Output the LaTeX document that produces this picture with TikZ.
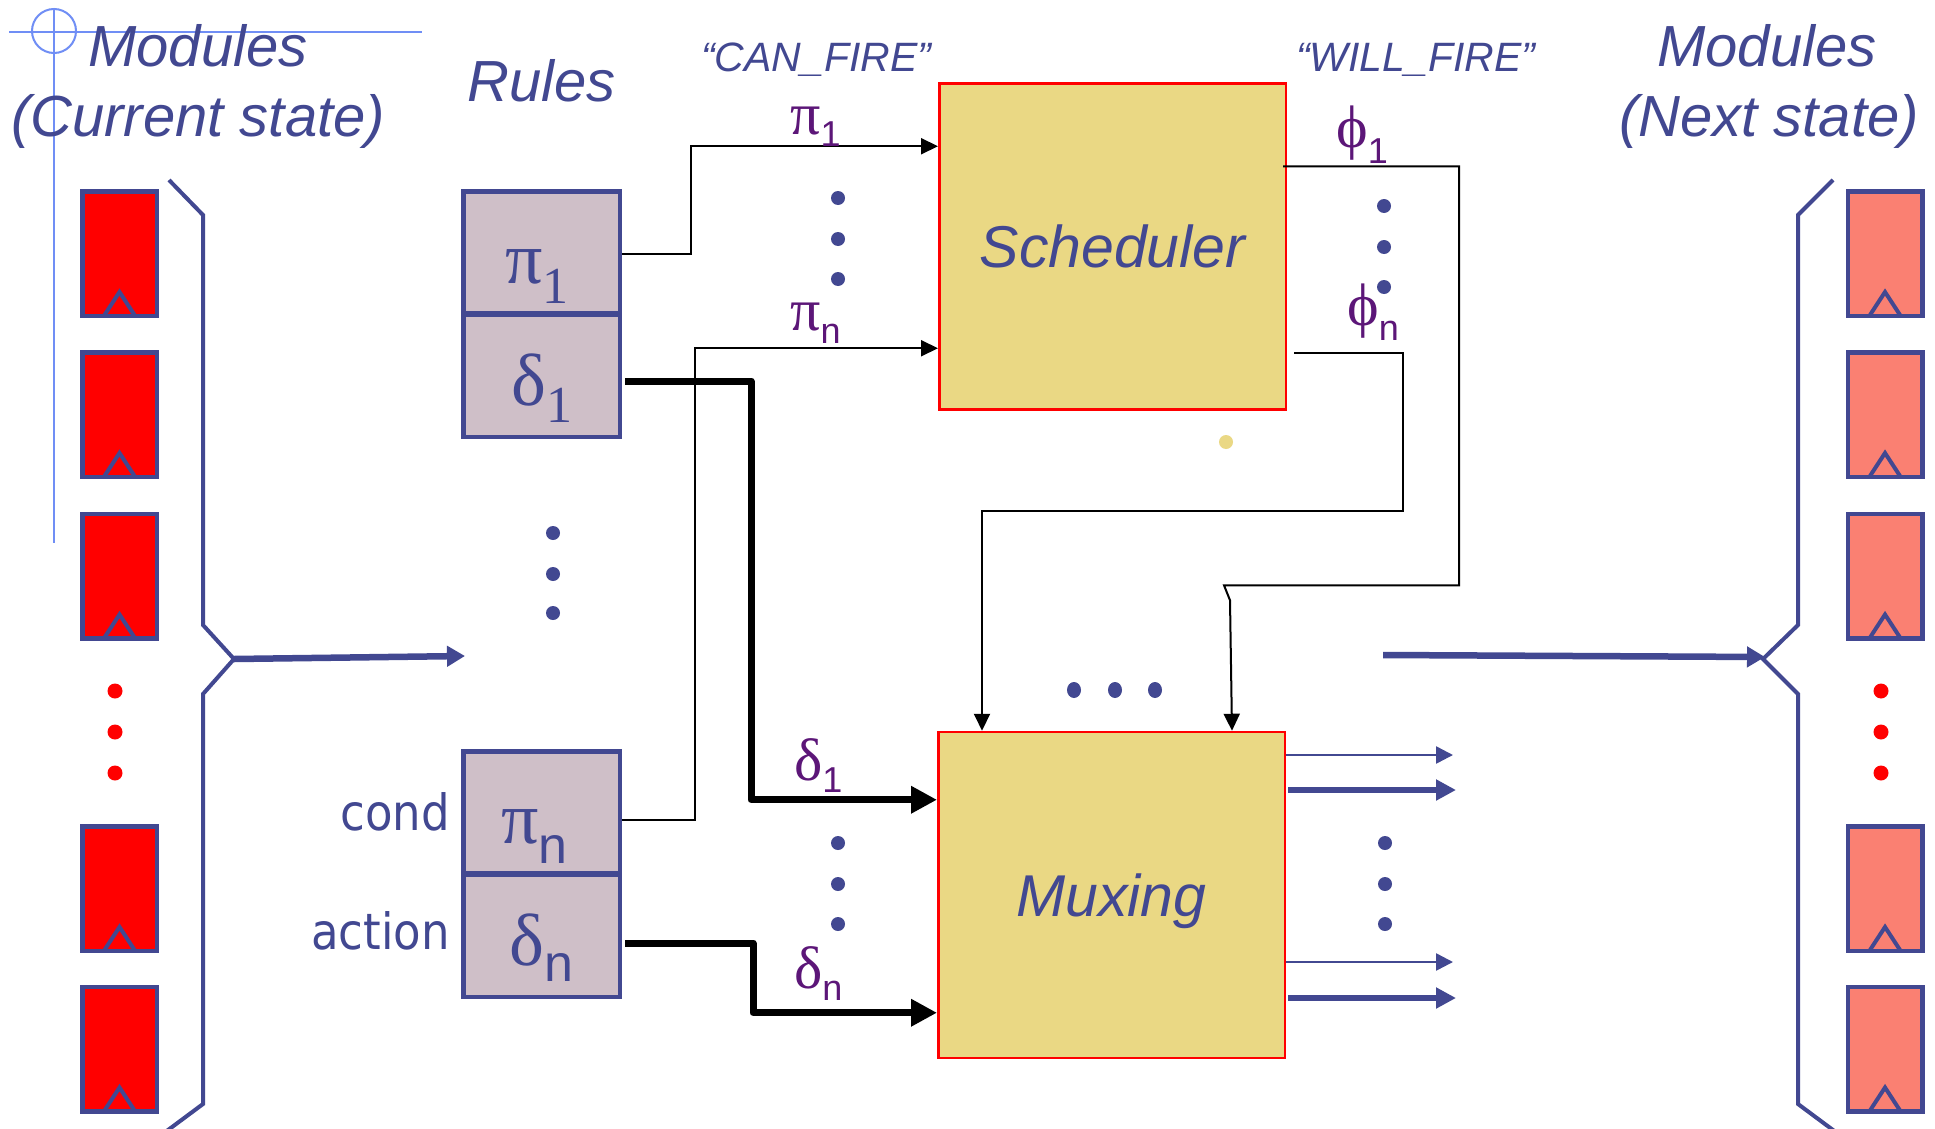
\documentclass[tikz,border=0pt]{standalone}
\usepackage{graphicx}
\usepackage{fontspec}
\setmainfont{Liberation Sans}
\newfontfamily\grkfont{Liberation Serif}
\newfontfamily\tahfont{DejaVu Sans}
\usetikzlibrary{arrows.meta,calc}
\definecolor{navy}{RGB}{66,72,145}
\definecolor{guideblue}{RGB}{112,142,245}
\definecolor{lblpurple}{RGB}{92,22,120}
\definecolor{khaki}{RGB}{234,216,132}
\definecolor{mauve}{RGB}{207,191,200}
\definecolor{salmon}{RGB}{250,128,114}
\newcommand\plab[3]{{\fontsize{60}{60}\selectfont\grkfont #1}\raisebox{-#3pt}{\fontsize{36}{36}\selectfont #2}}
\newcommand\blab[3]{{\fontsize{74}{74}\selectfont\grkfont #1}\raisebox{-#3pt}{\fontsize{52}{52}\selectfont #2}}
\begin{document}
\begin{tikzpicture}[x=1pt,y=-1pt,
  navytxt/.style={text=navy, inner sep=0pt, anchor=base west},
  title/.style={navytxt, font=\fontsize{58}{60}\selectfont\itshape},
  smalltitle/.style={navytxt, font=\fontsize{41}{44}\selectfont\itshape},
  purp/.style={text=lblpurple, inner sep=0pt, anchor=base west},
  reg/.style={draw=navy, line width=4.5pt, minimum width=74.5pt, minimum height=124.5pt, inner sep=0pt},
  regL/.style={reg, fill=red},
  regR/.style={reg, fill=salmon},
  rulebox/.style={draw=navy, line width=4.5pt, fill=mauve, minimum width=156.5pt, minimum height=122pt, inner sep=0pt},
  block/.style={draw=red, line width=2.5pt, fill=khaki, minimum width=346.5pt, minimum height=326pt, inner sep=0pt, text=navy, font=\fontsize{59}{60}\selectfont\itshape, text height=42pt, text depth=0pt},
  conn/.style={line width=2pt, -{Triangle[length=17pt,width=16pt]}},
  thickconn/.style={line width=7pt, line join=round, -{Triangle[length=26pt,width=26pt]}},
  bigarrow/.style={draw=navy, line width=6.5pt, -{Triangle[length=18pt,width=20pt]}},
  outthin/.style={draw=navy, line width=2.5pt, -{Triangle[length=17pt,width=17pt]}},
  outthick/.style={draw=navy, line width=5.5pt, -{Triangle[length=20pt,width=20pt]}},
  brace/.style={draw=navy, line width=4pt},
  guide/.style={draw=guideblue, line width=2pt},
  clk/.style={draw=navy, line width=4pt}
]
\useasboundingbox (0,0) rectangle (1935,1129);
\fill[white] (0,0) rectangle (1935,1129);

% guide lines
\draw[guide] (9,32) -- (422,32);
\draw[guide] (54,8) -- (54,543);
\draw[guide] (54,31) circle[radius=22pt];

% titles
\node[title] (modL) at (88,67) {Modules};
\node[title] (curL) at (11,137) {(Current state)};
\node[title] (rules) at (467,102) {Rules};
\node[smalltitle] (canfire) at (701,72) {“CAN\_FIRE”};
\node[smalltitle] (willfire) at (1296,72) {“WILL\_FIRE”};
\node[title] (modR) at (1657,67) {Modules};
\node[title] (nextR) at (1619,137) {(Next state)};

% registers
\foreach \n/\yy in {1/253.5, 2/414.5, 3/576, 4/888.5, 5/1049} {
  \node[regL] (rl\n) at (119.5,\yy) {};
  \draw[clk] ([xshift=-15pt,yshift=3pt]rl\n.south) -- ([yshift=26pt]rl\n.south) -- ([xshift=15pt,yshift=3pt]rl\n.south);
  \node[regR] (rr\n) at (1885,\yy) {};
  \draw[clk] ([xshift=-15pt,yshift=3pt]rr\n.south) -- ([yshift=26pt]rr\n.south) -- ([xshift=15pt,yshift=3pt]rr\n.south);
}
\foreach \yy in {691,732,773} {
  \fill[red] (115,\yy) circle[radius=7.5pt];
  \fill[red] (1881,\yy) circle[radius=7.5pt];
}

% brackets
\draw[brace] (169,180) -- (203,215) -- (203,625) -- (234,659) -- (203,694) -- (203,1104) -- (164,1133);
\draw[brace] (1833,180) -- (1798,215) -- (1798,625) -- (1763,659) -- (1798,694) -- (1798,1104) -- (1837,1133);

% big arrows
\coordinate (ltip) at (234,659);
\coordinate (lend) at (465,656);
\draw[bigarrow] (ltip) -- (lend);
\coordinate (rstart) at (1383,655);
\coordinate (rtip) at (1765,657);
\draw[bigarrow] (rstart) -- (rtip);

% rule boxes
\node[rulebox] (p1) at (541.5,252.25) {};
\node[rulebox] (d1) at (541.5,375.75) {};
\node[rulebox] (pn) at (541.5,812.25) {};
\node[rulebox] (dn) at (541.5,935.75) {};
\node[navytxt] (p1t) at (505,283) {\blab{π}{\grkfont 1}{20}};
\node[navytxt] (d1t) at (511,405) {\blab{δ}{\grkfont 1}{17}};
\node[navytxt] (pnt) at (501,843) {\blab{π}{n}{20}};
\node[navytxt] (dnt) at (509,965) {\blab{δ}{n}{16}};
\node[navytxt, anchor=base east, font=\fontsize{50}{50}\selectfont\tahfont] (cond) at (450,830) {\scalebox{0.9}[1]{cond}};
\node[navytxt, anchor=base east, font=\fontsize{50}{50}\selectfont\tahfont] (action) at (450,949) {\scalebox{0.9}[1]{action}};
\foreach \yy in {533,574,613} { \fill[navy] (553,\yy) circle[radius=7pt]; }

% blocks
\node[block] (sched) at (1112.5,246.5) {Scheduler};
\node[block] (mux) at (1111.5,895) {Muxing};
\fill[khaki] (1226,442) circle[radius=7pt];

% CAN_FIRE connectors
\draw[conn] ([yshift=-1.75pt]p1.east) -- ++(69,0) |- ([yshift=-64pt]sched.north west);
\draw[conn] ([yshift=-7.75pt]pn.east) -- ++(73,0) |- ([yshift=-266pt]sched.north west);
\node[purp] (lp1) at (790,135) {\plab{π}{1}{12}};
\node[purp] (lpn) at (790,330) {\plab{π}{n}{13}};
\foreach \yy in {198,239,279} { \fill[navy] (838,\yy) circle[radius=7pt]; }

% WILL_FIRE connectors
\draw[conn] ([xshift=-4pt,yshift=-84pt]sched.north east) -- ++(176,0) -- ++(0,419) -- ++(-235,0) -- ++(6,15) -- ([xshift=295pt]mux.north west);
\draw[conn] ([xshift=7pt,yshift=-271pt]sched.north east) -- ++(109,0) -- ++(0,158) -| ([xshift=45pt]mux.north west);
\node[purp] (lf1) at (1336,147) {\plab{ϕ}{1}{16}};
\node[purp] (lfn) at (1347,325) {\plab{ϕ}{n}{15}};
\foreach \yy in {206,247,287} { \fill[navy] (1384,\yy) circle[radius=7pt]; }

% action connectors
\draw[thickconn] ([xshift=3pt,yshift=-5.25pt]d1.east) -- ++(126,0) |- ([yshift=-69pt]mux.north west);
\draw[thickconn] ([xshift=3pt,yshift=-7.25pt]dn.east) -- ++(128,0) |- ([yshift=-282pt]mux.north west);
\node[purp] (ld1) at (794,780) {\plab{δ}{1}{12}};
\node[purp] (ldn) at (794,988) {\plab{δ}{n}{12}};
\foreach \yy in {843,884,924} { \fill[navy] (838,\yy) circle[radius=7pt]; }
\foreach \xx in {1074,1115,1155} { \fill[navy] (\xx,690) ellipse[x radius=7pt, y radius=8pt]; }

% muxing outputs
\coordinate (o1) at (1453,755);
\coordinate (o2) at (1456,790);
\coordinate (o3) at (1453,962);
\coordinate (o4) at (1456,998);
\draw[outthin] (mux.east |- o1) -- (o1);
\draw[outthick] ([xshift=2pt]mux.east |- o2) -- (o2);
\draw[outthin] (mux.east |- o3) -- (o3);
\draw[outthick] ([xshift=2pt]mux.east |- o4) -- (o4);
\foreach \yy in {843,884,924} { \fill[navy] (1385,\yy) circle[radius=7pt]; }
\end{tikzpicture}
\end{document}
